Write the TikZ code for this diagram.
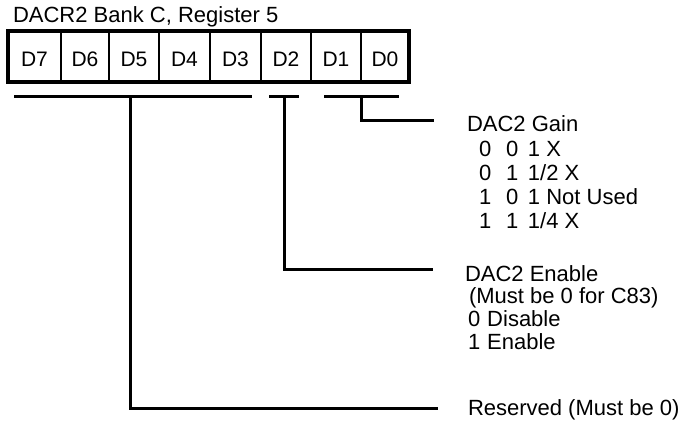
\documentclass[tikz,border=0pt]{standalone}
\usepackage{fontspec}
\setmainfont{Liberation Sans}
\usetikzlibrary{positioning, calc}

\begin{document}
\begin{tikzpicture}[x=1pt, y=-1pt,
    every node/.style={font=\fontsize{22}{26}\selectfont, inner sep=0pt, outer sep=0pt},
    txt/.style={anchor=base west},
    bitcell/.style={rectangle, draw, line width=2.2pt, minimum height=51pt,
                    font=\fontsize{21}{25}\selectfont,
                    text height=20pt, text depth=0pt},
    frame/.style={draw, line width=3.2pt},
    wire/.style={line width=3pt},
]
\useasboundingbox (0,0) rectangle (696,423);

% ---------------- title and register
\node[txt] (title) at (13,22) {DACR2 Bank C, Register 5};
\foreach \b/\xl/\xr in {7/8/61, 6/61/109, 5/109/159, 4/159/210,
                       3/210/261, 2/261/311, 1/311/361, 0/361/409}{
    \pgfmathsetmacro\ww{\xr-\xl}
    \node[bitcell, minimum width=\ww pt] (d\b) at ({(\xl+\xr)/2}, 56.5) {D\b};
}
\draw[frame] (d7.north west) rectangle (d0.south east);

% ---------------- bit groups
\coordinate (resA) at (14,96);  \coordinate (resB) at (252,96);
\coordinate (enA)  at (269,96); \coordinate (enB)  at (299,96);
\coordinate (gnA)  at (324,96); \coordinate (gnB)  at (399,96);
\coordinate (resmid) at (130,96);
\coordinate (enmid)  at (284,96);
\coordinate (gnmid)  at (361,96);
\draw[wire] (resA) -- (resB);
\draw[wire] (enA) -- (enB);
\draw[wire] (gnA) -- (gnB);

% ---------------- DAC2 gain
\coordinate (gnend) at (434,120);
\draw[wire] (gnmid) |- (gnend);
\node[txt] (gain)  at (467,131) {DAC2 Gain};
\node[txt] (gain1) at (479,156) {0\hspace{15pt}0\hspace{9.5pt}1 X};
\node[txt] (gain2) at (479,180) {0\hspace{15pt}1\hspace{9.5pt}1/2 X};
\node[txt] (gain3) at (479,204) {1\hspace{15pt}0\hspace{9.5pt}1 Not Used};
\node[txt] (gain4) at (479,228) {1\hspace{15pt}1\hspace{9.5pt}1/4 X};

% ---------------- DAC2 enable
\coordinate (enend) at (433,269);
\draw[wire] (enmid) |- (enend);
\node[txt] (enable)  at (465,281) {DAC2 Enable};
\node[txt] (enable1) at (469,303) {(Must be 0 for C83)};
\node[txt] (enable2) at (468,326) {0\hspace{7pt}Disable};
\node[txt] (enable3) at (468,349) {1\hspace{7pt}Enable};

% ---------------- reserved
\coordinate (resend) at (438,408);
\draw[wire] (resmid) |- (resend);
\node[txt] (reserved) at (468,415) {Reserved (Must be 0)};
\end{tikzpicture}
\end{document}
